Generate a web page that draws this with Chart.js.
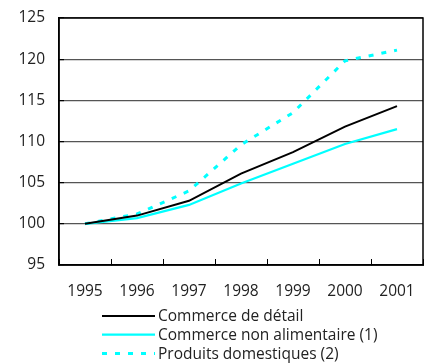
<!DOCTYPE html>
<html>
<head>
<meta charset="utf-8">
<script src="https://cdn.jsdelivr.net/npm/chart.js@4"></script>
<style>
  html, body { margin: 0; padding: 0; background: #fff; }
  #wrap { width: 429px; height: 363px; }
</style>
</head>
<body>
<div id="wrap"><canvas id="graphique" width="429" height="363"></canvas></div>
<script>
const annees = ['1995', '1996', '1997', '1998', '1999', '2000', '2001']
const commerceDetail = [100, 101.0, 102.8, 106.1, 108.7, 111.8, 114.3]
const commerceNonAlim = [100, 100.7, 102.3, 104.9, 107.3, 109.7, 111.5]
const produitsDomestiques = [100, 101.2, 104.0, 109.6, 113.5, 119.8, 121.1]
const graduationsY = [95, 100, 105, 110, 115, 120, 125]

const police = 'Open Sans'
const taillePolice = 15.5

// cadre noir autour de la zone du graphique
const cadre = {
    id: 'cadre',
    afterDraw(chart) {
        const { ctx, chartArea } = chart
        ctx.save()
        ctx.strokeStyle = '#000'
        ctx.lineWidth = 1.5
        ctx.strokeRect(chartArea.left, chartArea.top, chartArea.right - chartArea.left, chartArea.bottom - chartArea.top)
        ctx.restore()
    }
}

// légende empilée sous l'axe
const legende = {
    id: 'legende',
    afterDraw(chart) {
        const ctx = chart.ctx
        const x0 = 102, longueur = 53, y0 = 316, pas = 18.7
        ctx.save()
        ctx.font = taillePolice + 'px "' + police + '"'
        ctx.textBaseline = 'middle'
        ctx.fillStyle = '#222'
        chart.data.datasets.forEach((ds, i) => {
            const y = y0 + i * pas
            ctx.beginPath()
            ctx.strokeStyle = ds.borderColor
            ctx.lineWidth = ds.borderWidth
            ctx.setLineDash(ds.borderDash || [])
            ctx.moveTo(x0, y)
            ctx.lineTo(x0 + longueur, y)
            ctx.stroke()
            ctx.setLineDash([])
            ctx.fillText(ds.label, x0 + longueur + 3, y + 1)
        })
        ctx.restore()
    }
}

new Chart(document.getElementById('graphique'), {
    type: 'line',
    data: {
        labels: annees,
        datasets: [{
            label: 'Commerce de détail',
            data: commerceDetail,
            borderColor: '#000000',
            borderWidth: 2,
            pointRadius: 0,
            tension: 0
        }, {
            label: 'Commerce non alimentaire (1)',
            data: commerceNonAlim,
            borderColor: '#00ffff',
            borderWidth: 2.2,
            pointRadius: 0,
            tension: 0
        }, {
            label: 'Produits domestiques (2)',
            data: produitsDomestiques,
            borderColor: '#00ffff',
            borderWidth: 3,
            borderDash: [5, 8],
            pointRadius: 0,
            tension: 0
        }]
    },
    options: {
        responsive: false,
        animation: false,
        devicePixelRatio: 1,
        layout: { padding: { left: 0, right: 6, top: 18, bottom: 58 } },
        plugins: {
            legend: { display: false },
            tooltip: { enabled: false }
        },
        scales: {
            x: {
                offset: true,
                afterFit(scale) {
                    scale.height = 40
                    scale.paddingLeft = 0
                    scale.paddingRight = 0
                },
                grid: {
                    offset: true,
                    drawOnChartArea: false,
                    drawTicks: true,
                    tickLength: -6,
                    color: '#000',
                    lineWidth: 1
                },
                border: { display: true, color: '#000', width: 1.5 },
                ticks: {
                    color: '#222',
                    padding: 23,
                    maxRotation: 0,
                    font: { family: police, size: taillePolice }
                }
            },
            y: {
                min: 95,
                max: 125,
                afterFit(scale) {
                    scale.width = 59
                    scale.paddingTop = 0
                    scale.paddingBottom = 0
                },
                afterBuildTicks(scale) { scale.ticks = graduationsY.map(v => ({ value: v })) },
                grid: {
                    color: '#555',
                    tickColor: '#000',
                    lineWidth: 1.2,
                    drawTicks: true,
                    tickLength: -5
                },
                border: { display: true, color: '#000', width: 1.5 },
                ticks: {
                    color: '#222',
                    padding: 19,
                    font: { family: police, size: taillePolice }
                }
            }
        }
    },
    plugins: [cadre, legende]
})
</script>
</body>
</html>
